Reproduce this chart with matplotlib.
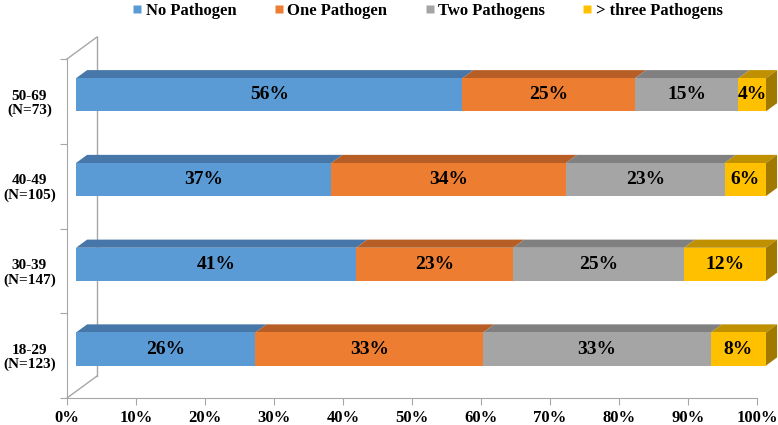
import numpy as np
import matplotlib
matplotlib.use("Agg")
import matplotlib.pyplot as plt
from matplotlib.patches import Polygon
from matplotlib.lines import Line2D

plt.rcParams['font.family'] = ['Liberation Serif', 'DejaVu Serif']
plt.rcParams['font.weight'] = 'bold'

# data (bottom to top)
age_groups = ['18-29\n(N=123)', '30-39\n(N=147)', '40-49\n(N=105)', '50-69\n(N=73)']
series_names = ['No Pathogen', 'One Pathogen', 'Two Pathogens', '> three Pathogens']
no_pathogen = [26, 41, 37, 56]
one_pathogen = [33, 23, 34, 25]
two_pathogens = [33, 25, 23, 15]
three_plus = [8, 12, 6, 4]

front_colors = ['#5B9BD5', '#ED7D31', '#A5A5A5', '#FFC000']
top_colors = ['#4677A8', '#B65E25', '#808080', '#BF9000']
side_color = '#A07A00'
line_color = '#A6A6A6'

# pseudo-3D geometry (depth vector per unit depth, in data units)
DX = 30 / 690
DY = 22 / 84.75
front_d = 0.30
bar_d = 0.37
bar_h = 0.39

vals = np.array([no_pathogen, one_pathogen, two_pathogens, three_plus], dtype=float)
shares = vals / vals.sum(axis=0)
cum = np.vstack([np.zeros(vals.shape[1]), np.cumsum(shares, axis=0)])

fig = plt.figure(figsize=(7.78, 4.25), dpi=100)
ax = fig.add_axes([67 / 778, 27 / 425, 690 / 778, 339 / 425])
ax.set_xlim(0, 1)
ax.set_ylim(-0.5, 3.5)

# walls / floor edges
ax.plot([DX, DX], [-0.5 + DY, 3.5 + DY], color=line_color, lw=1, clip_on=False)
ax.plot([0, DX], [3.5, 3.5 + DY], color=line_color, lw=1, clip_on=False)
ax.plot([0, DX], [-0.5, -0.5 + DY], color=line_color, lw=1, clip_on=False)

y = np.arange(len(age_groups))
fx = front_d * DX
fy = front_d * DY
ddx = bar_d * DX
ddy = bar_d * DY

for k in range(len(series_names)):
    left = cum[k] + fx
    ax.barh(y + fy, shares[k], left=left, height=bar_h, color=front_colors[k],
            label=series_names[k], zorder=3, clip_on=False)
    for i in range(len(y)):
        x0, x1 = left[i], left[i] + shares[k][i]
        yt = y[i] + fy + bar_h / 2
        top = Polygon([(x0, yt), (x1, yt), (x1 + ddx, yt + ddy), (x0 + ddx, yt + ddy)],
                      closed=True, facecolor=top_colors[k], edgecolor='none', zorder=2,
                      clip_on=False)
        ax.add_patch(top)
        if k == len(series_names) - 1:
            yb = y[i] + fy - bar_h / 2
            side = Polygon([(x1, yb), (x1, yt), (x1 + ddx, yt + ddy), (x1 + ddx, yb + ddy)],
                           closed=True, facecolor=side_color, edgecolor='none', zorder=2,
                           clip_on=False)
            ax.add_patch(side)
        ax.text(x0 + shares[k][i] / 2, y[i] + fy, f'{int(vals[k][i])}%',
                ha='center', va='center', fontsize=14, fontweight='bold', zorder=4)

# axes styling
for s in ['top', 'right']:
    ax.spines[s].set_visible(False)
for s in ['left', 'bottom']:
    ax.spines[s].set_color(line_color)
    ax.spines[s].set_zorder(1)

ax.set_xticks(np.arange(0, 1.01, 0.1))
ax.set_xticklabels([f'{int(round(t * 100))}%' for t in np.arange(0, 1.01, 0.1)],
                   fontsize=12, fontweight='bold')
ax.tick_params(axis='x', length=5, color=line_color, pad=4)

ax.set_yticks(np.arange(-0.5, 4, 1))
ax.set_yticklabels([])
ax.tick_params(axis='y', which='major', length=5, color=line_color)
ax.set_yticks(y, minor=True)
ax.set_yticklabels(age_groups, minor=True, fontsize=11, fontweight='bold',
                   ha='center', linespacing=1.1)
ax.tick_params(axis='y', which='minor', length=0, pad=27)

handles = [Line2D([], [], marker='s', linestyle='none', markersize=6,
                  markerfacecolor=c, markeredgecolor='none') for c in front_colors]
fig.legend(handles, series_names, loc='center', bbox_to_anchor=(0.5495, 0.974),
           ncol=4, frameon=False, fontsize=12, handlelength=0.6, handletextpad=0.2,
           columnspacing=2.25, borderpad=0)

fig.savefig('out.png', dpi=100)
